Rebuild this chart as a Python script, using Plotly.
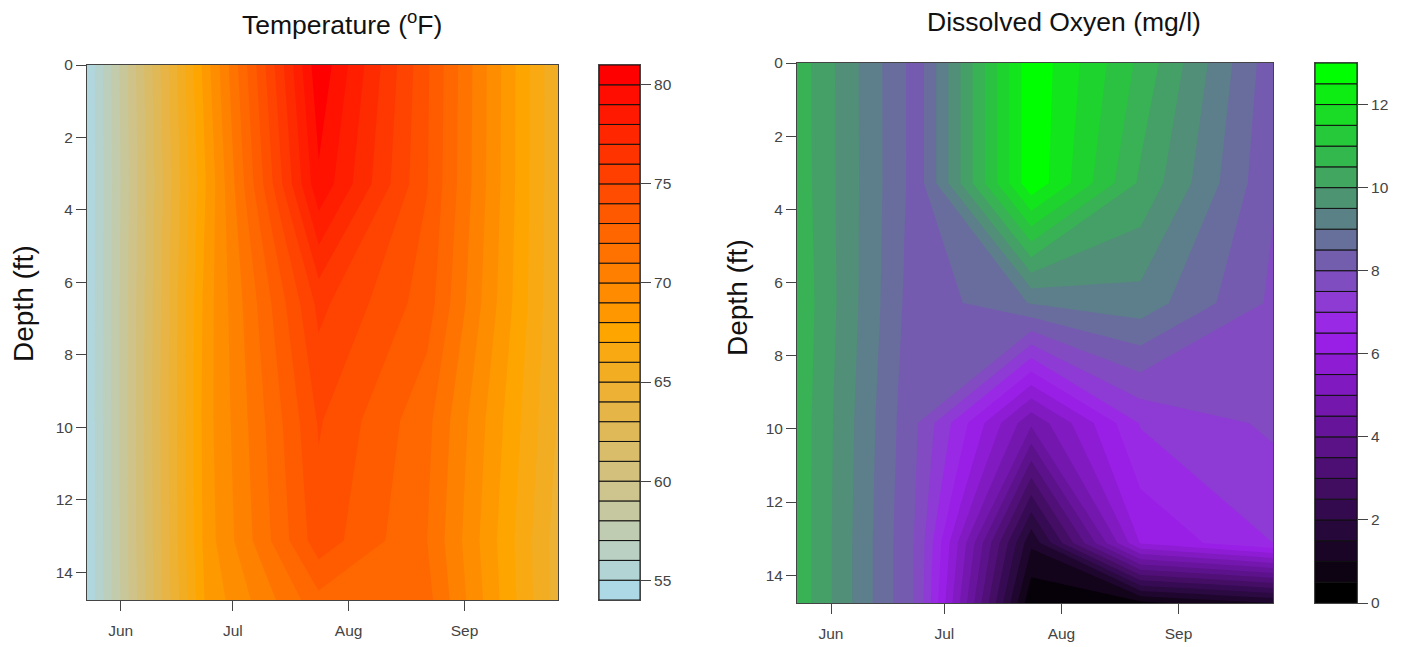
import plotly.graph_objects as go

W, H = 1412, 647
FONT = "Liberation Sans"
TICKC = "#444444"

dates = ["2014-05-23", "2014-06-24", "2014-07-24", "2014-08-22", "2014-09-26"]
depths = [0, 3.28, 6.56, 9.84, 13.12, 14.76]
month_ticks = ["2014-06-01", "2014-07-01", "2014-08-01", "2014-09-01"]
month_labels = ["Jun", "Jul", "Aug", "Sep"]

temp = [
    [54.05, 68.6, 80.8, 74.15, 65.05],
    [54.05, 68.1, 79.8, 74.05, 65.05],
    [54.05, 68.5, 76.3, 73.50, 65.05],
    [54.05, 68.6, 75.1, 72.30, 64.90],
    [54.05, 68.5, 74.6, 72.00, 64.50],
    [54.05, 68.25, 72.7, 72.35, 64.50],
]
oxygen = [
    [10.80, 8.25, 12.90, 10.87, 8.17],
    [10.82, 8.25, 12.90, 10.40, 8.05],
    [10.90, 8.15, 9.03, 9.30, 7.90],
    [10.85, 8.00, 4.60, 7.05, 7.60],
    [10.85, 7.90, 1.10, 6.05, 7.00],
    [10.85, 7.90, 0.05, 0.35, 1.00],
]
temp_levels = (54, 81, 1)
oxy_levels = (0, 13, 0.5)
temp_anchors = [(173, 216, 230), (255, 165, 0), (255, 0, 0)]
oxy_anchors = [(0, 0, 0), (160, 32, 240), (0, 255, 0)]
temp_bar_ticks = [55, 60, 65, 70, 75, 80]
oxy_bar_ticks = [0, 2, 4, 6, 8, 10, 12]
depth_ticks = [0, 2, 4, 6, 8, 10, 12, 14]


def ramp(anchors, n):
    out = []
    for i in range(n):
        p = i / (n - 1) * 2
        k = min(int(p), 1)
        f = p - k
        c = [round(anchors[k][j] + (anchors[k + 1][j] - anchors[k][j]) * f) for j in range(3)]
        out.append(f"rgb({c[0]},{c[1]},{c[2]})")
    return out


def px_x(a, b):
    return [a / W, b / W]


def px_y(top, bottom):
    return [1 - bottom / H, 1 - top / H]


fig = go.Figure()
panels = [
    dict(z=temp, lv=temp_levels, anchors=temp_anchors, ticks=temp_bar_ticks,
         main=(87, 558), bar=(599, 640), yy=(65, 600)),
    dict(z=oxygen, lv=oxy_levels, anchors=oxy_anchors, ticks=oxy_bar_ticks,
         main=(797, 1273), bar=(1315, 1357), yy=(63, 603)),
]
layout = {}
for idx, p in enumerate(panels):
    lo, hi, step = p["lv"]
    n = round((hi - lo) / step)
    cols = ramp(p["anchors"], n)
    # the contour colour domain runs from the first to the last contour level (n-1 steps);
    # each band is painted with the colour at its middle value
    scale = [[0, cols[0]]] + [[(i + 0.5) / (n - 1), cols[i]] for i in range(n - 1)] + [[1, cols[-1]]]
    ax_main = idx * 2 + 1
    ax_bar = idx * 2 + 2
    xa = "x" if ax_main == 1 else f"x{ax_main}"
    ya = "y" if ax_main == 1 else f"y{ax_main}"
    xb, yb = f"x{ax_bar}", f"y{ax_bar}"
    fig.add_trace(go.Contour(
        x=dates, y=depths, z=p["z"], xaxis=xa, yaxis=ya,
        colorscale=scale, showscale=False,
        autocontour=False,
        contours=dict(start=lo, end=hi - step, size=step, coloring="fill", showlines=False),
        line=dict(width=0, smoothing=0),
    ))
    fig.add_trace(go.Bar(
        x=[0] * n, y=[step] * n, base=[lo + i * step for i in range(n)],
        width=1, marker=dict(color=cols, line=dict(color="#111111", width=1)),
        xaxis=xb, yaxis=yb, showlegend=False, hoverinfo="skip",
    ))
    common = dict(showline=True, linecolor="#444444", linewidth=1, mirror=True, showgrid=False,
                  zeroline=False, ticks="outside", tickcolor=TICKC, tickwidth=1, ticklen=10,
                  automargin=False, tickfont=dict(family=FONT, size=15.5, color=TICKC))
    layout["xaxis" if ax_main == 1 else f"xaxis{ax_main}"] = dict(
        common, domain=px_x(*p["main"]), anchor=ya, type="date",
        range=[dates[0], dates[-1]], tickmode="array", tickvals=month_ticks, ticktext=month_labels,
        ticklabelstandoff=6)
    layout["yaxis" if ax_main == 1 else f"yaxis{ax_main}"] = dict(
        common, domain=px_y(*p["yy"]), anchor=xa, range=[depths[-1], 0],
        tickmode="array", tickvals=depth_ticks)
    layout[f"xaxis{ax_bar}"] = dict(
        domain=px_x(*p["bar"]), anchor=yb, range=[-0.5, 0.5], showticklabels=False, automargin=False,
        ticks="", showline=True, linecolor="#444444", mirror=True, showgrid=False, zeroline=False)
    layout[f"yaxis{ax_bar}"] = dict(
        common, domain=px_y(*p["yy"]), anchor=xb, side="right", range=[lo, hi],
        tickmode="array", tickvals=p["ticks"])

annotations = [
    dict(text="Temperature (<sup>o</sup>F)", x=342 / W, y=1 - 23 / H, size=26.5, angle=0),
    dict(text="Dissolved Oxyen (mg/l)", x=1064 / W, y=1 - 22 / H, size=26.5, angle=0),
    dict(text="Depth (ft)", x=23 / W, y=1 - 304 / H, size=28, angle=-90),
    dict(text="Depth (ft)", x=737 / W, y=1 - 298 / H, size=28, angle=-90),
]
layout["annotations"] = [
    dict(text=a["text"], x=a["x"], y=a["y"], xref="paper", yref="paper", showarrow=False,
         xanchor="center", yanchor="middle", textangle=a["angle"],
         font=dict(family=FONT, size=a["size"], color="#111111"))
    for a in annotations
]
fig.update_layout(width=W, height=H, margin=dict(l=0, r=0, t=0, b=0), paper_bgcolor="white",
                  plot_bgcolor="white", showlegend=False, barmode="overlay", **layout)
fig.write_html("out.html", config={"displayModeBar": False},
               post_script="document.body.style.margin='0';")
